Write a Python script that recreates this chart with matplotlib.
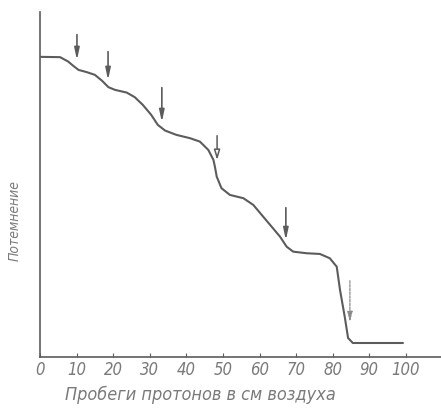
import matplotlib.pyplot as plt

# Кривая потемнения
ranges = [0, 5.5, 7.7, 9.1, 10.5, 12.8, 15.0, 16.9, 18.7, 20.5, 23.7, 25.9,
          28.1, 30.4, 32.2, 34.2, 37.3, 41.0, 43.7, 46.0, 47.4, 47.8, 48.3,
          49.6, 51.9, 55.6, 58.3, 60.6, 63.3, 65.6, 67.4, 69.2, 72.9, 76.5,
          79.2, 81.1, 82.0, 83.3, 84.2, 85.5, 89.3, 99.2]
darkening = [300, 299.7, 295.3, 291, 287, 284.7, 282, 276.3, 269.7, 267,
             264.3, 259.7, 252, 242, 232, 226.3, 222, 218.7, 215.3, 207, 197,
             190.3, 180.3, 168.7, 162, 158.7, 152, 142, 130.3, 120.3, 110.3,
             105.3, 103.7, 103, 98.7, 90.3, 67, 40, 19, 14, 14, 14]

# Стрелки: положение, начало и конец
arrow_x = [10.1, 18.6, 33.3, 48.4, 67.2, 84.7]
arrow_top = [325, 308, 272, 224, 152, 79]
arrow_tip = [294, 274, 232, 194, 114, 32]

xticks = [0, 10, 20, 30, 40, 50, 60, 70, 80, 90, 100]

plt.rcParams['font.family'] = ['DejaVu Sans']
plt.rcParams['font.stretch'] = 'condensed'
ink = '#5c5c5c'
txt = '#7a7a7a'

fig = plt.figure(figsize=(4.41, 4.08), dpi=100)
ax = fig.add_axes([0.0907, 0.125, 0.9093, 0.846])

ax.plot(ranges, darkening, color=ink, lw=1.5, solid_joinstyle='round',
        solid_capstyle='round')

for i, (x, y0, y1) in enumerate(zip(arrow_x, arrow_top, arrow_tip)):
    if i == 3:
        props = dict(arrowstyle='-|>,head_width=0.18,head_length=0.6',
                     color=ink, lw=1.1, fc='white')
    elif i == 5:
        props = dict(arrowstyle='-|>,head_width=0.15,head_length=0.6',
                     color='#8a8a8a', lw=0.9, linestyle=(0, (2, 1)))
    else:
        props = dict(arrowstyle='-|>,head_width=0.15,head_length=0.7',
                     color=ink, lw=1.2)
    ax.annotate('', xy=(x, y1), xytext=(x, y0), arrowprops=props)

ax.set_xlim(0, 109.6)
ax.set_ylim(0, 345)
ax.spines['top'].set_visible(False)
ax.spines['right'].set_visible(False)
for s in ['left', 'bottom']:
    ax.spines[s].set_color(ink)
    ax.spines[s].set_linewidth(1.2)

ax.set_xticks(xticks)
ax.set_xticklabels([str(t) for t in xticks], fontsize=12, style='italic',
                   color=txt)
ax.set_yticks([])
ax.tick_params(axis='x', direction='in', length=3, width=0.8, colors=ink,
               pad=3)
for lab in ax.get_xticklabels():
    lab.set_color(txt)

ax.text(43.7, -38, 'Пробеги протонов в см воздуха', ha='center', va='center',
        fontsize=13, style='italic', color=txt)
ax.text(-7, 136, 'Потемнение', rotation=90, ha='center', va='center',
        fontsize=10, style='italic', color=txt)

fig.savefig('out.png', dpi=100, facecolor='white')
